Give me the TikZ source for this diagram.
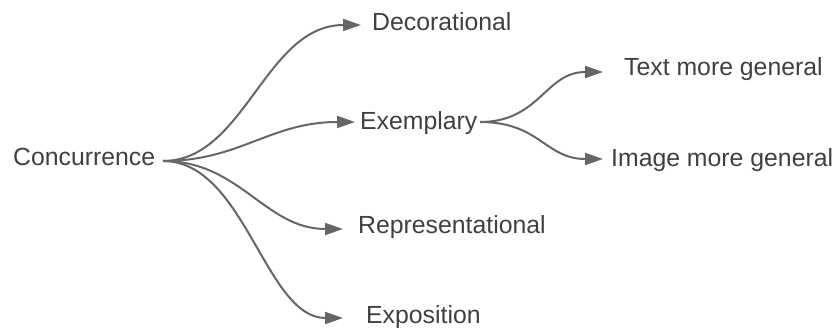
\documentclass[tikz,border=0pt]{standalone}
\usepackage{fontspec}
\setmainfont{Liberation Sans}
\usetikzlibrary{arrows.meta}
\definecolor{txtgray}{HTML}{404040}
\definecolor{linegray}{HTML}{666666}
\tikzset{
  lbl/.style={inner sep=0pt, anchor=base west, text=txtgray,
    font=\fontsize{24.8}{29}\selectfont},
  conn/.style={draw=linegray, line width=2pt,
    -{Triangle[length=18pt,width=12pt,fill=linegray]}},
}
\begin{document}
\begin{tikzpicture}[x=1pt,y=-1pt]
\useasboundingbox (0,0) rectangle (838,328);
% labels
\node[lbl] (conc) at (13,166) {Concurrence};
\node[lbl] (dec)  at (372,31) {Decorational};
\node[lbl] (exe)  at (360,130) {Exemplary};
\node[lbl] (rep)  at (358,234) {Representational};
\node[lbl] (expo) at (366,324) {Exposition};
\node[lbl] (txt)  at (624,76) {Text more general};
\node[lbl] (img)  at (611,167) {Image more general};
% connector ends
\coordinate (conc-out) at (163,161);
\coordinate (exe-out)  at (480,122);
\coordinate (dec-in)   at (361,25);
\coordinate (exe-in)   at (355,122);
\coordinate (rep-in)   at (343,229);
\coordinate (expo-in)  at (343,318);
\coordinate (txt-in)   at (603,72);
\coordinate (img-in)   at (603,159);
% connectors
\draw[conn] (conc-out) .. controls (245,161) and (265,25) .. (dec-in);
\draw[conn] (conc-out) .. controls (240,161) and (270,122) .. (exe-in);
\draw[conn] (conc-out) .. controls (240,161) and (265,229) .. (rep-in);
\draw[conn] (conc-out) .. controls (245,161) and (265,318) .. (expo-in);
\draw[conn] (exe-out) .. controls (540,122) and (545,72) .. (txt-in);
\draw[conn] (exe-out) .. controls (540,122) and (545,159) .. (img-in);
\end{tikzpicture}
\end{document}
